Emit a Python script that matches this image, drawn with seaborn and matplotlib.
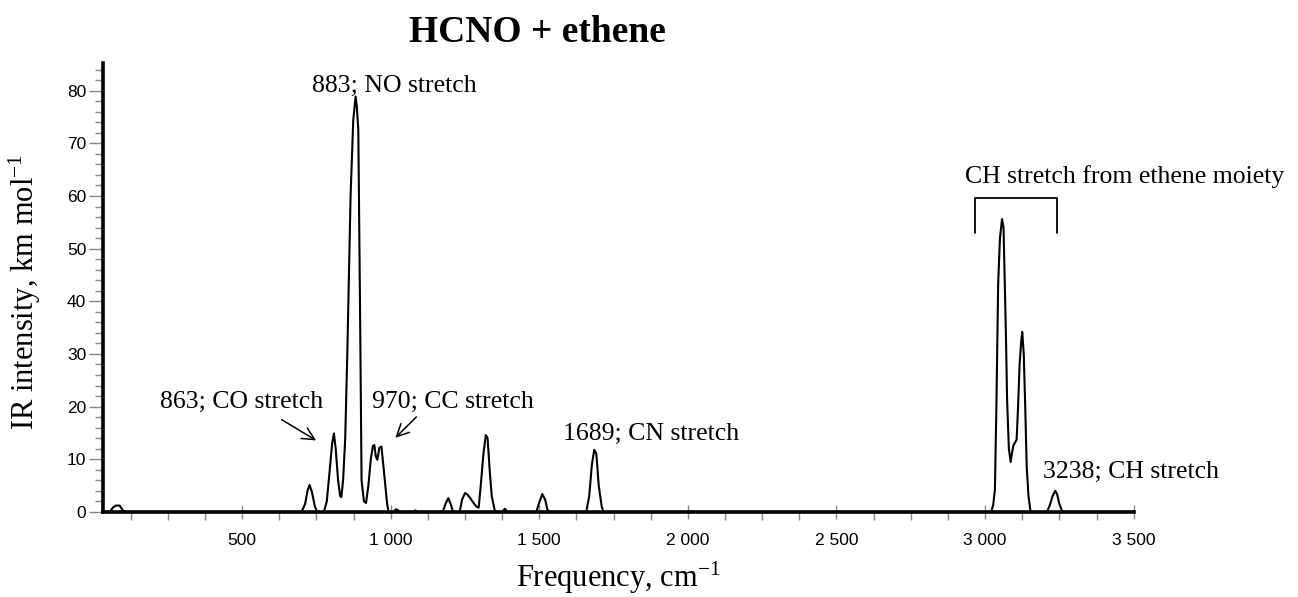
import matplotlib
matplotlib.use("Agg")
import matplotlib.pyplot as plt
import matplotlib.ticker as mticker
import seaborn as sns
import pandas as pd

# ---- data ----
freq = [32, 55, 65, 75, 88, 100, 108,
        700, 712, 720, 727, 735, 745, 753,
        775, 785, 795, 803, 809, 815, 823, 830, 834, 840, 847, 854, 865, 874, 882, 886, 891, 897, 902, 910, 917,
        925, 933, 940, 945, 950, 955, 962, 969, 975, 982, 988, 993,
        1010, 1018, 1025, 1030, 1078, 1083, 1088,
        1175, 1185, 1194, 1203, 1210,
        1232, 1240, 1250, 1260, 1270, 1280, 1289, 1296, 1303, 1312, 1320, 1326, 1333, 1340, 1350, 1355,
        1375, 1384, 1393,
        1490, 1500, 1510, 1520, 1527, 1533,
        1658, 1668, 1677, 1685, 1692, 1700, 1710, 1716,
        3020, 3027, 3033, 3038, 3044, 3050, 3057, 3062, 3066, 3070, 3074, 3080, 3086, 3090, 3095, 3106,
        3111, 3116, 3121, 3125, 3130, 3135, 3140, 3146, 3153,
        3208, 3218, 3227, 3236, 3242, 3250, 3260, 3500]
intensity = [0, 0, 0.8, 1.2, 1.2, 0.2, 0,
             0, 1.5, 4.0, 5.1, 3.8, 1.0, 0,
             0, 2.0, 8.0, 13.0, 14.9, 12.0, 6.0, 3.0, 2.8, 6.1, 14.0, 30.0, 59.9, 74.4, 78.9, 77.0, 72.6, 37.8, 6.0, 2.0, 1.7,
             5.0, 10.0, 12.5, 12.7, 10.5, 9.9, 12.2, 12.4, 9.0, 5.0, 1.5, 0,
             0, 0.5, 0.3, 0, 0, 0.3, 0,
             0, 1.6, 2.6, 1.3, 0,
             0, 2.3, 3.6, 3.2, 2.4, 1.6, 1.0, 0.8, 5.0, 11.0, 14.6, 14.0, 8.0, 3.0, 0.3, 0,
             0, 0.6, 0,
             0, 1.8, 3.4, 2.3, 0.5, 0,
             0, 3.0, 9.0, 11.8, 11.0, 5.0, 1.0, 0,
             0, 1.2, 4.2, 20.0, 43.4, 52.0, 55.6, 54.0, 44.0, 33.9, 21.3, 12.0, 9.5, 11.0, 12.6, 13.7,
             20.0, 28.0, 32.0, 34.2, 30.0, 20.0, 8.6, 3.0, 0,
             0, 1.3, 3.0, 4.0, 3.4, 1.5, 0, 0]

x_ticks = [500, 1000, 1500, 2000, 2500, 3000, 3500]
y_ticks = [0, 10, 20, 30, 40, 50, 60, 70, 80]

title = "HCNO + ethene"
x_label = "Frequency, cm$^{-1}$"
y_label = "IR intensity, km mol$^{-1}$"

df = pd.DataFrame({"freq": freq, "intensity": intensity})

sns.set_style("ticks")
plt.rcParams["font.family"] = ["Liberation Serif", "DejaVu Serif"]
plt.rcParams["mathtext.fontset"] = "custom"
plt.rcParams["mathtext.rm"] = "Liberation Serif"
plt.rcParams["mathtext.it"] = "Liberation Serif:italic"
plt.rcParams["mathtext.bf"] = "Liberation Serif:bold"
plt.rcParams["text.color"] = "black"
plt.rcParams["axes.labelcolor"] = "black"
plt.rcParams["xtick.labelcolor"] = "black"
plt.rcParams["ytick.labelcolor"] = "black"

fig = plt.figure(figsize=(12.98, 5.97), dpi=100)
ax = fig.add_axes([0.07935, 0.14255, 0.79407, 0.75142])

sns.lineplot(data=df, x="freq", y="intensity", ax=ax, color="black",
             linewidth=1.5, estimator=None, sort=False)

ax.set_xlim(32, 3500)
ax.set_ylim(0, 85.2)

for s in ["top", "right"]:
    ax.spines[s].set_visible(False)
for s in ["left", "bottom"]:
    ax.spines[s].set_linewidth(2.6)
    ax.spines[s].set_color("black")

ax.set_xticks(x_ticks)
ax.set_yticks(y_ticks)
ax.xaxis.set_minor_locator(mticker.MultipleLocator(125))
ax.yaxis.set_minor_locator(mticker.MultipleLocator(2))
ax.xaxis.set_major_formatter(mticker.FuncFormatter(lambda v, p: f"{int(v):,}".replace(",", " ")))

ax.tick_params(axis="x", which="major", direction="inout", length=10, width=1.0,
               color="#888888", labelcolor="black", pad=10, labelsize=12.5)
ax.tick_params(axis="x", which="minor", direction="out", length=6, width=1.0, color="#888888")
ax.tick_params(axis="y", which="major", direction="out", length=10, width=1.0,
               color="#888888", labelcolor="black", pad=2, labelsize=12.5)
ax.tick_params(axis="y", which="minor", direction="out", length=6, width=1.0, color="#888888")
for lab in ax.get_xticklabels() + ax.get_yticklabels():
    lab.set_fontfamily("Liberation Sans")

ax.set_xlabel(x_label, fontsize=22, color="black")
ax.set_ylabel(y_label, fontsize=22, color="black")
ax.xaxis.set_label_coords(0.5, -0.168)
ax.xaxis.label.set_va("baseline")
ax.yaxis.set_label_coords(-0.058, 0.49)

fig.text(537 / 1298, 1 - 33 / 597, title, ha="center", va="center",
         fontsize=27, fontweight="bold", color="black")

fs = 18.5
ax.text(734, 79.8, "883; NO stretch", ha="left", va="baseline", fontsize=fs)
ax.text(773, 19.7, "863; CO stretch", ha="right", va="baseline", fontsize=fs)
ax.text(936, 19.7, "970; CC stretch", ha="left", va="baseline", fontsize=fs)
ax.text(1581, 13.7, "1689; CN stretch", ha="left", va="baseline", fontsize=fs)
ax.text(3194, 6.4, "3238; CH stretch", ha="left", va="baseline", fontsize=fs)
ax.text(2932, 62.4, "CH stretch from ethene moiety", ha="left", va="baseline", fontsize=fs)

arrow = dict(arrowstyle="->", color="black", lw=1.1, mutation_scale=22)
ax.annotate("", xy=(757, 13.3), xytext=(625, 17.8), arrowprops=arrow)
ax.annotate("", xy=(1009, 13.7), xytext=(1093, 18.4), arrowprops=arrow)

ax.plot([2966, 2966, 3241, 3241], [53.0, 59.6, 59.6, 53.0], color="black", lw=1.3)

fig.savefig("out.png", dpi=100)
